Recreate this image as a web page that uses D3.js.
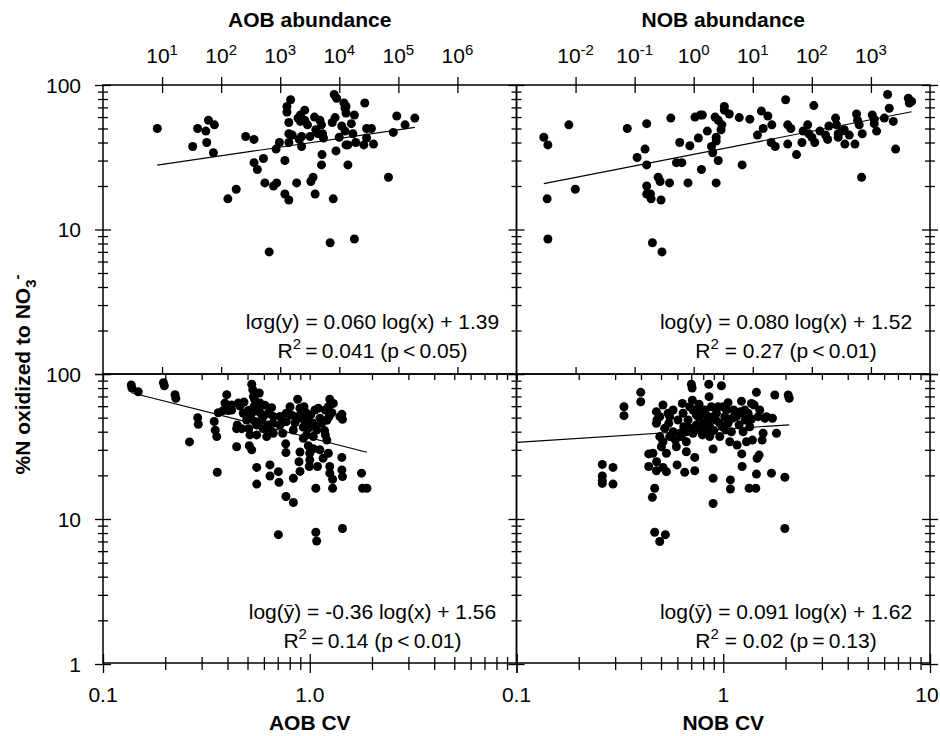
<!DOCTYPE html>
<html>
<head>
<meta charset="utf-8">
<script src="https://cdn.jsdelivr.net/npm/d3@7"></script>
<style>
  body { margin: 0; background: #fff; }
  text { font-family: "Liberation Sans", Arial, sans-serif; fill: #000; }
</style>
</head>
<body>
<div class="chart"></div>
<script>
// ---- data ----
// top left: AOB abundance vs %N oxidized
const aobAbund = [8.3, 33, 40, 55, 57, 61, 77, 74, 130, 180,
  260, 360, 360, 410, 520, 550, 650, 770, 870, 850,
  970, 1200, 1200, 1400, 1300, 1300, 1500, 1400, 1400, 1400,
  1900, 2000, 2200, 2100, 2300, 2300, 2600, 2600, 2900, 3200,
  3300, 3600, 3800, 3900, 4000, 4400, 4700, 5000, 5200, 5100,
  5000, 5400, 7000, 7600, 7900, 8200, 9000, 8500, 8800, 10000,
  12000, 12500, 13000, 13000, 11000, 12500, 13000, 14000, 14000, 16000,
  18000, 17000, 18000, 19000, 26000, 27000, 29000, 29000, 35000, 38000,
  68000, 82000, 94000, 130000, 190000, 2200, 1600];
const aobPct = [50, 37.5, 50, 48, 40, 57, 53, 34, 16.3, 19,
  44, 42, 29, 26, 31, 21, 7.0, 20, 21, 36,
  40, 30, 17.6, 16, 65, 71, 79, 55, 46, 40,
  21, 59, 62, 42, 37.5, 44, 67, 57, 53, 44,
  21.5, 23, 60, 17.6, 49, 46, 57, 53, 46, 33,
  28, 43, 8.1, 55, 16.3, 86, 81, 59.5, 35, 43.5,
  75, 69, 64, 71, 52, 48, 38.5, 38.5, 28, 54,
  62, 46, 8.6, 40, 38.5, 75, 50, 43, 50, 39,
  23, 47, 61, 53, 59, 56, 45];

// top right: NOB abundance vs %N oxidized
const nobAbund = [0.0029, 0.0034, 0.0033, 0.0034, 0.0077, 0.0099, 0.075, 0.11, 0.15, 0.16,
  0.16, 0.16, 0.16, 0.185, 0.19, 0.20, 0.25, 0.27, 0.28, 0.29,
  0.39, 0.41, 0.51, 0.58, 0.63, 0.80, 0.86, 1.05, 1.2, 1.3,
  1.4, 1.35, 1.7, 2.0, 2.1, 2.3, 2.4, 2.4, 2.4, 2.6,
  2.6, 2.9, 3.0, 3.3, 3.3, 4.0, 5.9, 6.6, 8.9, 12,
  14, 15, 18, 21, 20.5, 24, 36, 39, 39, 44,
  55, 68, 71, 85, 89, 100, 108, 112, 137, 171,
  185, 194, 252, 262, 279, 279, 322, 362, 430, 536,
  571, 594, 634, 695, 713, 1054, 1138, 1138, 1247, 1683,
  1915, 2046, 2393, 2618, 4295, 4467, 4887, 353];
const nobPct = [43.5, 38.5, 16.3, 8.6, 53, 19, 50, 31.5, 36, 28,
  54, 20, 17.6, 17.6, 16.3, 8.1, 23, 21.5, 16, 7.0,
  21, 59, 29, 40, 29, 21, 38, 60, 43, 62,
  62, 26, 48, 37.5, 34, 60, 43.5, 41, 21, 57,
  30, 49, 53, 71, 67, 63, 59.5, 28, 58, 45,
  66, 50, 61, 53, 40, 37.5, 79, 53, 39, 50,
  33, 40, 48, 53, 46, 43.5, 72, 40, 48, 45,
  42, 52, 59, 53, 46, 43.5, 48, 39, 45, 39,
  63, 57, 53, 23, 46, 62, 58, 54, 48, 59,
  86, 69, 56, 36, 81, 75, 77, 49];

// bottom left: AOB CV vs %N oxidized
const aobCv = [0.137, 0.138, 0.148, 0.196, 0.198, 0.223, 0.225, 0.262, 0.287, 0.289,
  0.345, 0.349, 0.355, 0.357, 0.361, 0.382, 0.389, 0.397, 0.404, 0.419,
  0.443, 0.443, 0.446, 0.451, 0.46, 0.481, 0.505, 0.51, 0.507, 0.514,
  0.51, 0.524, 0.524, 0.53, 0.534, 0.537, 0.543, 0.554, 0.554, 0.554,
  0.57, 0.575, 0.575, 0.585, 0.596, 0.607, 0.619, 0.63, 0.642, 0.642,
  0.654, 0.666, 0.705, 0.71, 0.705, 0.718, 0.731, 0.74, 0.765, 0.767,
  0.767, 0.803, 0.818, 0.833, 0.833, 0.849, 0.874, 0.887, 0.897, 0.897,
  0.914, 0.931, 0.938, 0.959, 0.966, 0.984, 0.995, 1.0, 1.03, 1.04,
  1.07, 1.07, 1.08, 1.09, 1.1, 1.12, 1.16, 1.18, 1.21, 1.23,
  1.25, 1.25, 1.25, 1.23, 1.28, 1.29, 1.29, 1.43, 1.44, 1.43,
  1.43, 1.44, 1.44, 1.78, 1.8, 1.89, 1.21, 1.0, 0.666, 0.554,
  0.469, 0.897, 1.04, 1.12, 1.19, 0.955,
  0.495, 0.524, 0.543, 0.596, 0.63, 0.718, 0.77, 0.864, 0.914, 0.966,
  0.984, 1.01, 1.06, 1.08, 1.14, 1.19, 1.24, 1.30, 1.40, 0.63,
  0.477, 0.419, 0.666, 0.833, 1.04, 0.931, 0.77, 0.564];
const aobCvPct = [84, 80, 75.5, 87, 83, 72, 68, 34, 50, 45,
  47, 41, 37, 21, 54, 56, 63, 72, 56, 56.5,
  31.5, 42, 44.5, 63, 60, 64, 56, 49.5, 42, 38,
  32, 30, 85, 78, 70, 59.5, 47, 44.5, 22.7, 17.4,
  74, 63, 54, 48, 42, 61, 37, 44.5, 23.6, 19.8,
  58.6, 39, 21.2, 17.9, 7.8, 51, 46, 39, 33, 14.3,
  28.7, 59.5, 52, 19.1, 13, 46, 67, 24.8, 21.3, 58,
  49.5, 43, 59.5, 54, 38, 32, 23, 28.4, 46, 37,
  16.3, 8.1, 7.05, 23, 58, 49.5, 26.2, 40.7, 35, 28.4,
  67, 23, 20.7, 59.5, 54, 18.8, 16.3, 52.7, 48.7, 26.6,
  21.8, 19.6, 8.6, 20.7, 16.3, 16.3, 48, 25.5, 51, 38,
  42, 29, 30.5, 30, 56.5, 46,
  48.2, 53.6, 66, 50.8, 53.6, 44.5, 46.9, 50.8, 55, 48.2,
  42.2, 52.2, 56.5, 41.1, 45.7, 38, 50.8, 62.7, 50.8, 42.2,
  53.6, 61.1, 45.7, 41.1, 44.5, 36, 53.6, 56.5];

// bottom right: NOB CV vs %N oxidized
const nobCv = [0.26, 0.26, 0.26, 0.26, 0.293, 0.293, 0.331, 0.331, 0.399, 0.399,
  0.436, 0.436, 0.454, 0.457, 0.466, 0.466, 0.475, 0.478, 0.475, 0.476,
  0.475, 0.493, 0.493, 0.502, 0.511, 0.511, 0.525, 0.531, 0.531, 0.541,
  0.545, 0.551, 0.572, 0.587, 0.593, 0.598, 0.634, 0.639, 0.644, 0.651,
  0.663, 0.663, 0.676, 0.701, 0.707, 0.709, 0.714, 0.714, 0.728, 0.728,
  0.741, 0.755, 0.764, 0.784, 0.793, 0.799, 0.814, 0.829, 0.851, 0.854,
  0.86, 0.876, 0.893, 0.893, 0.893, 0.9, 0.92, 0.944, 0.962, 0.98,
  0.987, 0.998, 1.017, 1.028, 1.055, 1.075, 1.083, 1.083, 1.107, 1.124,
  1.167, 1.193, 1.211, 1.225, 1.229, 1.234, 1.248, 1.276, 1.295, 1.319,
  1.334, 1.369, 1.384, 1.41, 1.437, 1.447, 1.447, 1.458, 1.491, 1.502,
  1.542, 1.559, 1.618, 1.711, 1.73, 1.776, 1.809, 1.986, 1.986, 2.061,
  2.084, 0.784, 0.829, 0.688, 1.055, 1.248, 1.369, 0.86, 0.511, 0.616,
  0.493, 0.521, 0.572, 0.604, 0.627, 0.688, 0.741, 0.769, 0.814, 0.845,
  0.927, 0.962, 1.036, 1.095, 1.158, 1.271, 1.344, 1.475, 1.589, 0.551,
  0.663, 0.893];
const nobCvPct = [23.8, 19.8, 18.4, 17.6, 22.7, 17.4, 59.5, 51.6, 74.7, 64.4,
  28.1, 23, 14.1, 28.4, 16.3, 8.1, 55, 48.2, 45.7, 24.8,
  21.5, 7.0, 37, 31.5, 61.1, 22.7, 7.8, 28.4, 21.2, 53.6,
  45.7, 37, 40, 35, 31.5, 23.6, 62.7, 53.6, 43.3, 21,
  34.1, 29.1, 48.2, 85, 80, 66, 56.5, 39, 26.6, 21.5,
  44.5, 50.8, 61.8, 56.5, 38, 45.7, 41.1, 52.2, 85, 69.8,
  43.3, 59.5, 30.4, 19.1, 12.8, 40.7, 48.2, 59.5, 37, 83,
  43.3, 59.5, 50.8, 41.1, 63.4, 34.1, 18.6, 16.1, 49.5, 56.5,
  32.4, 44.5, 55, 65, 28.1, 23, 40, 48.2, 34.1, 53.6,
  16.3, 48.9, 35, 61.1, 16.3, 74.7, 20.4, 26.2, 27.6, 56.5,
  35, 39, 50.8, 20.7, 49.5, 71.7, 39, 19.4, 8.6, 71.7,
  68, 52.2, 40, 42.2, 45.7, 53.6, 62.7, 37, 34.1, 39,
  50.8, 42.2, 56.5, 48.2, 37, 59.5, 52.2, 41.1, 56.5, 46.9,
  53.6, 45.7, 56.5, 40, 50.8, 56.5, 43.3, 50.8, 49.5, 50.8,
  40, 50.8];

// regression fits, log(y) = slope * log(x) + intercept
const fitSlope = [0.060, 0.080, -0.36, 0.091];
const fitIntercept = [1.39, 1.52, 1.56, 1.62];
const eqLabels = [
  "lσg(y) = 0.060 log(x) + 1.39",
  "log(y) = 0.080 log(x) + 1.52",
  "log(ȳ) = -0.36 log(x) + 1.56",
  "log(ȳ) = 0.091 log(x) + 1.62"
];
const r2Labels = [
  "\u2009=\u20090.041 (p\u2009<\u20090.05)",
  " = 0.27 (p\u2009<\u20090.01)",
  "\u2009=\u20090.14 (p\u2009<\u20090.01)",
  " = 0.02 (p\u2009=\u20090.13)"
];

// tick labels
const aobTicks = [1e1, 1e2, 1e3, 1e4, 1e5, 1e6];
const aobTickExp = ["1", "2", "3", "4", "5", "6"];
const nobTicks = [1e-2, 1e-1, 1e0, 1e1, 1e2, 1e3];
const nobTickExp = ["-2", "-1", "0", "1", "2", "3"];
const pctTicks = [1, 10, 100];
const cvTicksLeft = [0.1, 1];
const cvLabelsLeft = ["0.1", "1.0"];
const cvTicksRight = [0.1, 1, 10];
const cvLabelsRight = ["0.1", "1", "10"];

// ---- layout ----
const W = 940, H = 736;
const xL = 103, xM = 516.5, xR = 930;
const yT = 85, yM = 374, yB = 664;

const svg = d3.select(".chart").append("svg")
  .attr("width", W).attr("height", H);

const xAob = d3.scaleLog().domain([1, 1e7]).range([xL, xM]);
const xNob = d3.scaleLog().domain([1e-3, 1e4]).range([xM, xR]);
const xAobCv = d3.scaleLog().domain([0.1, 10]).range([xL, xM]);
const xNobCv = d3.scaleLog().domain([0.1, 10]).range([xM, xR]);
const yTop = d3.scaleLog().domain([1, 100]).range([yM, yT]);
const yBot = d3.scaleLog().domain([1, 100]).range([yB, yM]);

const panels = [
  { xs: aobAbund, ys: aobPct, x: xAob, y: yTop },
  { xs: nobAbund, ys: nobPct, x: xNob, y: yTop },
  { xs: aobCv, ys: aobCvPct, x: xAobCv, y: yBot },
  { xs: nobCv, ys: nobCvPct, x: xNobCv, y: yBot, fitFromAxis: true }
];

const isDecade = d => Math.abs(Math.log10(d) - Math.round(Math.log10(d))) < 1e-6;

// points + fit lines
panels.forEach((p, i) => {
  const g = svg.append("g");
  g.selectAll("circle")
    .data(d3.range(p.xs.length))
    .enter()
    .append("circle")
    .attr("cx", j => p.x(p.xs[j]))
    .attr("cy", j => p.y(p.ys[j]))
    .attr("r", 4.5)
    .attr("fill", "#000");

  const ext = d3.extent(p.xs);
  if (p.fitFromAxis) ext[0] = p.x.domain()[0];
  const fit = v => Math.pow(10, fitSlope[i] * Math.log10(v) + fitIntercept[i]);
  g.append("path")
    .datum(ext)
    .attr("fill", "none")
    .attr("stroke", "#000")
    .attr("stroke-width", 1.2)
    .attr("d", d3.line().x(v => p.x(v)).y(v => p.y(fit(v))));

  const cx = p.x.range()[1] - 144;
  const base = p.y.range()[0];
  g.append("text")
    .attr("x", cx).attr("y", base - 45)
    .attr("text-anchor", "middle")
    .style("font-size", "21px")
    .text(eqLabels[i]);
  const r2 = g.append("text")
    .attr("x", cx).attr("y", base - 16)
    .attr("text-anchor", "middle")
    .style("font-size", "21px");
  r2.append("tspan").text("R");
  r2.append("tspan").attr("dy", -9).style("font-size", "15px").text("2");
  r2.append("tspan").attr("dy", 9).text(r2Labels[i]);
});

// ---- frames ----
const frame = svg.append("g").attr("fill", "none").attr("stroke", "#000").attr("stroke-width", 1.5);
[[xL, yT], [xM, yT], [xL, yM], [xM, yM]].forEach(([x0, y0]) => {
  frame.append("rect").attr("x", x0).attr("y", y0)
    .attr("width", xM - xL).attr("height", yM - yT);
});

// crossing y ticks on every vertical edge
function yTicks(scale, x) {
  const g = svg.append("g").attr("transform", `translate(${x},0)`)
    .call(d3.axisLeft(scale).tickValues(scale.ticks()).tickFormat(""));
  g.select(".domain").remove();
  g.selectAll(".tick line")
    .attr("x1", d => isDecade(d) ? -8 : -5)
    .attr("x2", d => isDecade(d) ? 8 : 5)
    .attr("stroke-width", 1.3);
}
[xL, xM, xR].forEach(x => { yTicks(yTop, x); yTicks(yBot, x); });

// x ticks: lo/hi offsets relative to the line
function xTicks(scale, y, values, lo, hi) {
  const g = svg.append("g").attr("transform", `translate(0,${y})`)
    .call(d3.axisBottom(scale).tickValues(values).tickFormat(""));
  g.select(".domain").remove();
  g.selectAll(".tick line")
    .attr("y1", d => lo(d)).attr("y2", d => hi(d))
    .attr("stroke-width", 1.3);
}
// top abundance axes (cross)
xTicks(xAob, yT, aobTicks, () => -8, () => 8);
xTicks(xNob, yT, nobTicks, () => -8, () => 8);
// mirror at bottom of top panels (point up)
xTicks(xAob, yM, aobTicks, () => -7, () => 0);
xTicks(xNob, yM, nobTicks, () => -7, () => 0);
// mirror at top of bottom panels (point down)
xTicks(xAobCv, yM, xAobCv.ticks(), () => 0, () => 6);
xTicks(xNobCv, yM, xNobCv.ticks(), () => 0, () => 6);
// bottom CV axes (cross)
xTicks(xAobCv, yB, xAobCv.ticks(), d => isDecade(d) ? -10 : -7, d => isDecade(d) ? 9 : 6);
xTicks(xNobCv, yB, xNobCv.ticks(), d => isDecade(d) ? -10 : -7, d => isDecade(d) ? 9 : 6);

// ---- tick labels ----
const lab = svg.append("g").style("font-size", "21px");
[yTop, yBot].forEach(scale => {
  lab.selectAll(null)
    .data(pctTicks.filter(v => !(scale === yTop && v === 1)))
    .enter().append("text")
    .attr("x", 81)
    .attr("y", d => scale(d) + 7.5)
    .attr("text-anchor", "end")
    .text(d => d);
});

function powLabels(scale, vals, exps) {
  const t = lab.selectAll(null)
    .data(vals).enter().append("text")
    .attr("x", d => scale(d))
    .attr("y", 63)
    .attr("text-anchor", "middle");
  t.append("tspan").text("10");
  t.append("tspan").attr("dy", -8).style("font-size", "15px").text((d, i) => exps[i]);
}
powLabels(xAob, aobTicks, aobTickExp);
powLabels(xNob, nobTicks, nobTickExp);

function cvLabels(scale, vals, labels) {
  lab.selectAll(null)
    .data(vals).enter().append("text")
    .attr("x", d => Math.min(scale(d), W - 13))
    .attr("y", 702)
    .attr("text-anchor", "middle")
    .text((d, i) => labels[i]);
}
cvLabels(xAobCv, cvTicksLeft, cvLabelsLeft);
cvLabels(xNobCv, cvTicksRight, cvLabelsRight);

// ---- axis titles ----
const titles = svg.append("g").style("font-size", "21px").style("font-weight", "bold");
titles.append("text").attr("x", (xL + xM) / 2).attr("y", 27).attr("text-anchor", "middle").text("AOB abundance");
titles.append("text").attr("x", (xM + xR) / 2).attr("y", 27).attr("text-anchor", "middle").text("NOB abundance");
titles.append("text").attr("x", (xL + xM) / 2).attr("y", 730).attr("text-anchor", "middle").text("AOB CV");
titles.append("text").attr("x", (xM + xR) / 2).attr("y", 730).attr("text-anchor", "middle").text("NOB CV");

const yt = titles.append("text")
  .attr("transform", `translate(30,${(yT + yB) / 2}) rotate(-90)`)
  .attr("text-anchor", "middle");
yt.append("tspan").text("%N oxidized to NO");
yt.append("tspan").attr("dy", 6).style("font-size", "15px").text("3");
yt.append("tspan").attr("dy", -14).style("font-size", "15px").text("-");
</script>
</body>
</html>
